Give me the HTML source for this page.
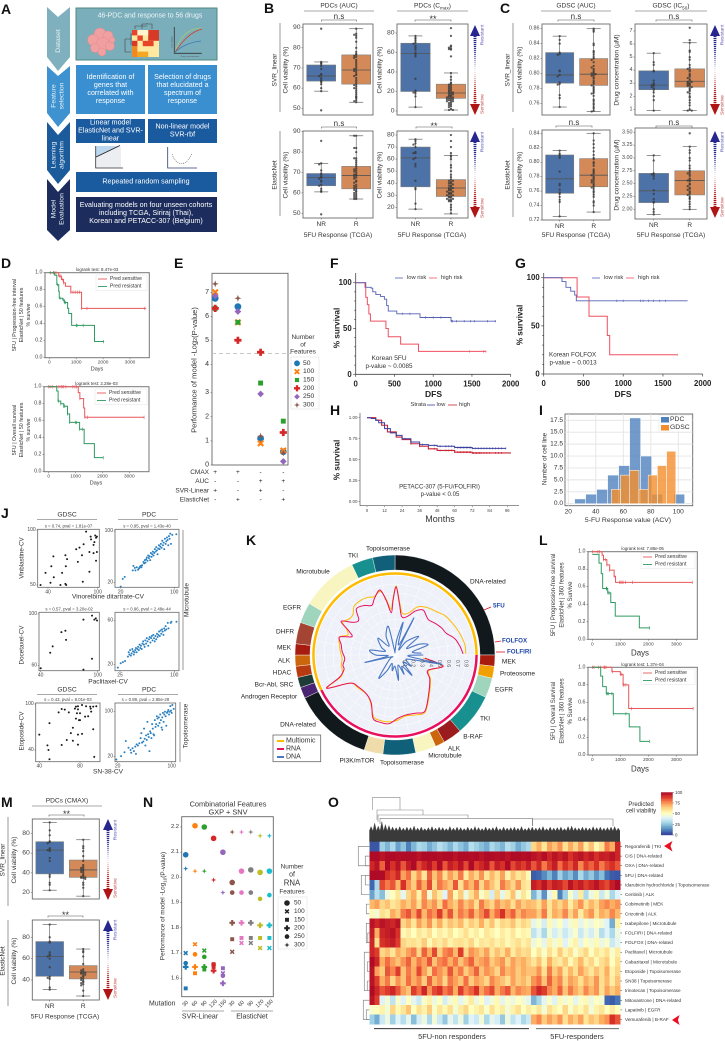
<!DOCTYPE html>
<html lang="en">
<head>
<meta charset="utf-8">
<title>Multi-panel drug response figure</title>
<style>
html,body{margin:0;padding:0;background:#fff;}
svg{display:block;font-family:"Liberation Sans",sans-serif;}
</style>
</head>
<body>
<svg id="figure" xmlns="http://www.w3.org/2000/svg" width="725" height="1041" viewBox="0 0 725 1041">
<g text-anchor="middle" dominant-baseline="central">
  <polygon points="47,7 58,17 70,7 70,57 58,71 47,57" fill="#7fb0bd"/>
  <polygon points="47,66 58,76 70,66 70,113 58,127 47,113" fill="#3e92cf"/>
  <polygon points="47,122 58,135 70,122 70,170 58,184 47,170" fill="#1b5a9b"/>
  <polygon points="47,179 58,192 70,179 70,230 58,241 47,230" fill="#1c2c5c"/>
  <g fill="#e8f2f6" font-size="6.8">
    <text transform="rotate(-90 58.5 41)" x="58.5" y="41" dominant-baseline="central">Dataset</text>
    <text transform="rotate(-90 54 96)" x="54" y="96" dominant-baseline="central">Feature</text>
    <text transform="rotate(-90 62 96)" x="62" y="96" dominant-baseline="central">selection</text>
    <text transform="rotate(-90 54 155)" x="54" y="155" dominant-baseline="central">Learning</text>
    <text transform="rotate(-90 62 155)" x="62" y="155" dominant-baseline="central">algorithm</text>
    <text transform="rotate(-90 54 209)" x="54" y="209" dominant-baseline="central">Model</text>
    <text transform="rotate(-90 62 209)" x="62" y="209" dominant-baseline="central">Evaluation</text>
  </g>
  <rect x="76" y="8" width="141" height="52" fill="#7aaebb" stroke="#4e8a80" stroke-width="1"/>
  <rect x="76" y="65" width="69" height="49" fill="#3a8fd0"/>
  <rect x="148" y="65" width="69" height="49" fill="#3a8fd0"/>
  <rect x="76" y="119" width="69" height="24" fill="#1a5a9e"/>
  <rect x="148" y="119" width="69" height="24" fill="#1a5a9e"/>
  <rect x="76" y="172" width="141" height="20" fill="#1a5a9e"/>
  <rect x="76" y="197" width="141" height="35" fill="#1c2c5c"/>
  <g fill="#fff" font-size="7.1">
    <text x="150" y="16" dominant-baseline="central" fill="#eef5f7" font-size="6.9">46-PDC and response to 56 drugs</text>
    <text x="110.5" y="77" dominant-baseline="central">Identification of</text>
    <text x="110.5" y="85" dominant-baseline="central">genes that</text>
    <text x="110.5" y="93" dominant-baseline="central">correlated with</text>
    <text x="110.5" y="101" dominant-baseline="central">response</text>
    <text x="182.5" y="77" dominant-baseline="central">Selection of drugs</text>
    <text x="182.5" y="85" dominant-baseline="central">that elucidated a</text>
    <text x="182.5" y="93" dominant-baseline="central">spectrum of</text>
    <text x="182.5" y="101" dominant-baseline="central">response</text>
    <text x="110.5" y="122.5" dominant-baseline="central">Linear model</text>
    <text x="110.5" y="130.5" dominant-baseline="central">ElasticNet and SVR-</text>
    <text x="110.5" y="138.5" dominant-baseline="central">linear</text>
    <text x="182.5" y="126.5" dominant-baseline="central">Non-linear model</text>
    <text x="182.5" y="134.5" dominant-baseline="central">SVR-rbf</text>
    <text x="146" y="181.5" dominant-baseline="central">Repeated random sampling</text>
    <text x="146" y="205" dominant-baseline="central">Evaluating models on four unseen cohorts</text>
    <text x="146" y="213" dominant-baseline="central">including TCGA, Siriraj (Thai),</text>
    <text x="146" y="221" dominant-baseline="central">Korean and PETACC-307 (Belgium)</text>
  </g>
  <g fill="#f0a0a0" stroke="#e88a8a" stroke-width=".5">
    <circle cx="100" cy="34" r="6"/><circle cx="108" cy="36" r="5"/><circle cx="93" cy="40" r="5.5"/><circle cx="103" cy="44" r="6.5"/><circle cx="110" cy="46" r="4.5"/><circle cx="95" cy="48" r="4.5"/><circle cx="102" cy="52" r="4"/><circle cx="112" cy="40" r="3"/>
  </g>
  <g>
    <rect x="132" y="30" width="27" height="27" fill="#ffe9a0"/>
    <rect x="132" y="30" width="5.4" height="5.4" fill="#e8442a"/><rect x="137.4" y="35.4" width="5.4" height="5.4" fill="#e8442a"/><rect x="148.2" y="30" width="10.8" height="10.8" fill="#d83a28"/><rect x="142.8" y="40.8" width="10.8" height="5.4" fill="#e8442a"/><rect x="132" y="46.2" width="5.4" height="10.8" fill="#f08a20"/><rect x="137.4" y="51.6" width="10.8" height="5.4" fill="#f5a623"/><rect x="142.8" y="30" width="5.4" height="5.4" fill="#fff6d0"/><rect x="137.4" y="30" width="5.4" height="5.4" fill="#fff6d0"/><rect x="132" y="40.8" width="5.4" height="5.4" fill="#d83a28"/>
    <path d="M131 33V45M125 39H131M125 39V52H131M142 29V24H152V29M147 24V23M135 29V26H147" fill="none" stroke="#444" stroke-width=".6"/>
  </g>
  <g fill="none">
    <path d="M174.3 27V53.3H201.7" stroke="#333" stroke-width=".8"/>
    <path d="M175 52C180 36 188 29 201 28" stroke="#a6cf6a" stroke-width=".8"/>
    <path d="M175 52C182 42 190 32 202 29" stroke="#d8392b" stroke-width=".8"/>
    <path d="M175 52C182 46 190 42 201 41" stroke="#3a78bf" stroke-width=".8"/>
  </g>
  <text transform="rotate(-90 172.5 42)" x="172.5" y="42" font-size="2.2" fill="#555" dominant-baseline="central">Cell viability</text>
  <text x="190" y="57" font-size="2.2" fill="#555" dominant-baseline="central">Drug concentration</text>
  <g fill="none">
    <rect x="96" y="147" width="25" height="21" fill="#eceef2"/>
    <polygon points="96,157 118,146 96,146" fill="#bcd7ee"/>
    <path d="M95.7 146V168H123" stroke="#333" stroke-width=".8"/>
    <path d="M96 157L120 145.5" stroke="#222" stroke-width=".9"/>
  </g>
  <g fill="none">
    <path d="M167.7 147V168H197" stroke="#2d3c70" stroke-width=".8"/>
    <path d="M172 154C176 166 186 168 192 153" stroke="#555" stroke-width=".6" stroke-dasharray="1 1"/>
  </g>
</g>
<g font-size="14" font-weight="bold" fill="#111" dominant-baseline="central">
  <text x="1" y="9" dominant-baseline="central">A</text>
  <text x="264" y="8" dominant-baseline="central">B</text>
  <text x="500" y="8" dominant-baseline="central">C</text>
  <text x="1" y="263" dominant-baseline="central">D</text>
  <text x="174" y="263" dominant-baseline="central">E</text>
  <text x="330" y="263" dominant-baseline="central">F</text>
  <text x="515" y="263" dominant-baseline="central">G</text>
  <text x="330" y="410" dominant-baseline="central">H</text>
  <text x="539" y="410" dominant-baseline="central">I</text>
  <text x="1" y="513" dominant-baseline="central">J</text>
  <text x="246" y="540" dominant-baseline="central">K</text>
  <text x="539" y="540" dominant-baseline="central">L</text>
  <text x="1" y="802" dominant-baseline="central">M</text>
  <text x="143" y="802" dominant-baseline="central">N</text>
  <text x="328" y="802" dominant-baseline="central">O</text>
</g>
</svg>
<script>
/* ===== DATA: box plots (panels B, C, M) ===== */
const boxGroups=['NR','R'];
const b1Stats=[[63.5,66,71.5,58.5,73],[62,69,76.5,53,89.5]];
const b1NR=[89.5,73,72.5,72,71,69.5,67,66.5,66,65,64,63.5,63,62,60,58.5,49];
const b1R=[89.5,87,86.5,86,85,83,80,78,77,76.5,76,75.5,75,74,73,72,71,70,69.5,69,68.5,68,67,66.5,66,65,64,63,62,61.5,61,60,60,59,58,57,56,55.5,55,54,53.5,53];
const b1Ticks=[50,60,70,80,90];
const b2Stats=[[20,59,69.5,4,77],[13,18.5,27.5,1,39]];
const b2NR=[77,75,74,72,70,69,67,65,63,60,58,56,33,21,20,19,18,15,4];
const b2R=[85,77,67,66,65,64,63.5,63,56,39,35,32,29,28,27,26,25,24,23,22,21,20,20,19,18,18,17,16,16,15,15,14,14,13,13,12,12,11,11,10,10,9,8,7,6,5,4,2,1,1];
const b2Ticks=[0,20,40,60,80];
const b3Stats=[[63.5,67.5,69.5,60.5,74.5],[62,68.5,73,57,88]];
const b3NR=[85.5,74.5,74,71,69.5,69,68,67.5,67,66,65.5,64,63.5,62,61,60.5,49.5];
const b3R=[88,88,82,82,80,77,77,76,75,74,73,72,71.5,71,70.5,70,69,69,68.5,68,67.5,67,66,65.5,65,64,63.5,63,62.5,62,61.5,61,60.5,60,59.5,59,58.5,58,57.5,57,57];
const b3Ticks=[50,60,70,80,90];
const b4Stats=[[37,61,70,18.5,76.5],[29,36,43,14.5,63]];
const b4NR=[76.5,75,73,72,70,66,65,65,61,60,56,54,42,36,35,23,18.5];
const b4R=[80,75,70,65,63,62,60,55,53,50,47,45,43,42,42,41,40,40,39,38,38,37,36,36,35,35,34,34,33,33,32,32,31,31,30,30,29,29,28,28,27,27,26,26,25,25,22,20,18,15];
const b4Ticks=[20,30,40,50,60,70,80];
const c1Stats=[[.787,.798,.828,.755,.85],[.784,.799,.82,.749,.86]];
const c1NR=[.85,.845,.84,.828,.826,.825,.804,.803,.798,.796,.788,.786,.785,.771,.767,.755];
const c1R=[.86,.858,.856,.84,.838,.83,.828,.825,.822,.82,.818,.815,.81,.808,.806,.804,.802,.8,.8,.799,.798,.797,.795,.793,.79,.788,.786,.784,.782,.78,.778,.776,.774,.773,.77,.765,.763,.76,.758,.755,.753,.75,.749];
const c1Ticks=['0.76','0.78','0.80','0.82','0.84','0.86'];
const c2Stats=[[2.5,2.85,3.95,.9,5.3],[2.7,3.15,4.1,.9,6.1]];
const c2NR=[5.3,4.6,4.4,3.95,3.9,3.2,3,2.9,2.85,2.8,2.7,2.6,2.5,2.3,2,1.7,.9];
const c2R=[7.25,6.3,6.1,5.5,5.4,5,4.8,4.4,4.2,4.1,4,3.9,3.7,3.6,3.5,3.4,3.3,3.2,3.1,3.1,3,3,2.9,2.9,2.8,2.8,2.7,2.6,2.5,2.4,2.3,2.2,2,1.9,1.7,1.5,1.3,1,.9,.9];
const c2Ticks=['1','2','3','4','5','6','7'];
const c3Stats=[[.757,.777,.81,.725,.816],[.766,.782,.805,.731,.84]];
const c3NR=[.816,.812,.81,.808,.806,.787,.77,.768,.762,.758,.756,.752,.748,.745,.725];
const c3R=[.84,.83,.825,.82,.815,.81,.806,.804,.8,.798,.795,.79,.788,.786,.784,.782,.78,.778,.776,.775,.773,.772,.77,.768,.766,.765,.763,.76,.758,.755,.752,.746,.744,.74,.731];
const c3Ticks=['0.72','0.74','0.76','0.78','0.80','0.82','0.84'];
const c4Stats=[[2.13,2.36,2.7,1.9,3.05],[2.28,2.56,2.75,2,3.22]];
const c4NR=[3.05,2.95,2.7,2.69,2.68,2.65,2.6,2.37,2.3,2.2,2.15,2.13,2,1.95,1.9];
const c4R=[3.48,3.22,3.15,3.1,3,2.95,2.85,2.8,2.75,2.72,2.7,2.68,2.65,2.6,2.58,2.56,2.55,2.5,2.48,2.45,2.42,2.4,2.38,2.35,2.33,2.3,2.28,2.25,2.22,2.2,2.15,2.1,2.05,2];
const c4Ticks=['2.00','2.25','2.50','2.75','3.00','3.25','3.50'];
const m1Stats=[[39,63,71.5,22.5,91],[35.5,43,53,16.5,73.5]];
const m1NR=[91,83,78,72,71,70,65,64,63,62,55,52,38,36,30,28,22.5];
const m1R=[73.5,67,65,62,57,52,48,46,45,44,43,42,41,40,38,37,36,35.5,35,35,34,30,28,25,16.5];
const m1Ticks=[20,40,60,80];
const m2Stats=[[43.5,62,76,31,92],[41,47.5,53.5,25,69]];
const m2NR=[92,80,76,75,66,64,63,62,60,52,43,42,41,33,31];
const m2R=[69,67,66,62,55,50,49,48,47,47,46,46,45,44,43,42,41,40,39,38,37,36,35,30,25];
const m2Ticks=[40,60,80];

/* ===== DATA: survival curves ===== */
const unitTicks=['0.0','0.2','0.4','0.6','0.8','1.0'];
const dayTicks=[0,1000,2000,3000];
const d1RedT=[0,350,450,530,600,800,1200];const d1RedS=[1,.96,.92,.88,.84,.77,.58];const d1RedC=[50,180,250,380,430,500,540,800,880,960,1040,1130,1200,1400,3550];
const d1GrnT=[0,200,280,350,370,500,560,680,720,830,1680];const d1GrnS=[1,.97,.86,.78,.7,.68,.65,.58,.52,.38,.19];const d1GrnC=[150,300,400,520,560,600,1000,1030,1260,2020];
const d2RedT=[0,1100,1160,1300,1340];const d2RedS=[1,.93,.86,.75,.64];const d2RedC=[0,50,130,300,380,460,500,560,640,900,980,1040,1160,1350,1450,3550];
const d2GrnT=[0,300,350,450,560,700,780,1150,1320,1700];const d2GrnS=[1,.95,.83,.8,.77,.68,.58,.5,.33,.165];const d2GrnC=[370,450,560,600,700,780,1000,1040,1150,1250,2030];
const l1RedT=[0,350,400,520,620,780,830];const l1RedS=[1,.96,.91,.85,.79,.72,.65];const l1RedC=[0,200,260,400,470,520,620,780,980,1020,1060,1100,1180,1430,3570];
const l1GrnT=[0,200,240,320,370,550,660,820,1680];const l1GrnS=[.97,.97,.87,.75,.58,.53,.42,.265,.13];const l1GrnC=[500,520,560,600,2050];
const l2RedT=[0,700,1000,1100,1300];const l2RedS=[1,.95,.92,.8,.53];const l2RedC=[0,60,220,300,420,450,490,720,1000,1040,1100,1130,1200,1400,3600];
const l2GrnT=[0,300,370,500,750,1320,1700];const l2GrnS=[1,.9,.78,.7,.47,.32,.155];const l2GrnC=[500,540,570,700,750,1200,2040];
const fLowT=[0,130,200,220,260,320,370,400,420,530,830,1230];const fLowS=[100,95,94,90,87,85,82,75,69,66,62,58];const fLowC=[600,700,900,1000,1100,1240,1250,1300,1400,1480,1530,1700,1800];
const fHighT=[0,120,130,150,170,190,390,420,580,810];const fHighS=[100,95,84,76,66,58,50,41,33,25];const fHighC=[1470,1650,1680];
const gLowT=[0,230,280,340,390,410];const gLowS=[100,96,90,86,82,76];const gLowC=[920,1000,1220,1250,1320,1380,1460,1530];
const gHighT=[0,420,570,800,830];const gHighS=[100,80,60,40,20];const gHighC=[1680];
const dfsTicks=[0,500,1000,1500,2000];
const hLowT=[0,3,6,8,12,16,20,24,30,36,42,48,60,72];const hLowS=[1,.99,.97,.94,.87,.82,.79,.75,.71,.68,.67,.66,.645,.635];
const hLowC=[20,26,30,38,46,50,54,56,58,60,62,63,64,65,66,67,68,69,70,71,72,74,76,78,80,82,84,86,88,90,92,95];
const hHighT=[0,6,10,14,20,24,30,36,42,48,60,72];const hHighS=[1,.97,.91,.83,.77,.74,.69,.66,.63,.61,.59,.58];
const hHighC=[30,36,42,46,50,54,56,58,60,62,63,64,65,66,67,68,69,70,71,72,73,74,75,76,77,78,80,82,84,88,90,92,98];
const hMonths=[0,12,24,36,48,60,72,84,96];
const hSurvTicks=['0.00','0.25','0.50','0.75','1.00'];

/* ===== DATA: panel E ===== */
const eSeries50=[6.75,6.4,1.1,.55];
const eSeries100=[7,5.75,.9,.6];
const eSeries150=[6.33,5.75,3.4,1.82];
const eSeries200=[6.33,5,4.5,1.35];
const eSeries250=[6.85,6.2,2.95,.15];
const eSeries300=[7.35,6.75,1.2,.5];
const eFeatureCounts=[50,100,150,200,250,300];
const eTicks=[0,1,2,3,4,5,6,7];
const eThreshold=4.45;
const eRowNames=['CMAX','AUC','SVR-Linear','ElasticNet'];
const eRowSigns=[['+','+','-','-'],['-','-','+','+'],['+','-','+','-'],['-','+','-','+']];

/* ===== DATA: panel I ===== */
const iPdcEdges=[24.6,32.6,40.6,48.6,56.6,64.6,72.6,80.6,88.6,96.6,104.6];
const iPdcCounts=[1,2,3,6,8,18,10,2,0,2];
const iGdscEdges=[51.3,58,64.7,71.4,78.1,84.8,91.5,98.2];
const iGdscCounts=[3,6,7,3,6,8,11];
const iXTicks=[20,40,60,80,100];
const iYTicks=['0.0','2.5','5.0','7.5','10.0','12.5','15.0','17.5'];

/* ===== DATA: panel J ===== */
const j1X=[31,43,37,47,44,46.5,57,55,61,62,61.5,61,63,76,74,78,82,83,81,86,90,90,91.5,92,95,95,96,97,98,98,99,99];
const j1Y=[50,52,61,57,67,76,61,50,51,50,67,77,73.5,71,82.5,84,53,87,77,98.5,80,62,94,91.5,79,86.5,89,95,93,72,80,94];
const j2X=[20,23,26,38,39,41,42,44,46,47,48,49,50,51,52,54,55,56,57,58,59,60,61,62,63,64,65,66,67,68,69,70,71,72,73,74,75,76,77,78,79,80,81,82,83,84,85,86,87,88,89,90,91,92,93,94,95,97,103];
const j2Y=[14,26,29,39,46,43,39,44,40,42,43,45,46,44,47,52,50,55,51,56,59,54,62,58,61,55,66,60,64,68,62,66,72,68,75,70,64,73,78,72,76,80,74,85,78,82,72,88,80,84,90,86,78,92,88,96,80,94,95];
const j3X=[40,50,52.6,61.8,66,66.7,85,85,94,94,96.5,98,99.3];
const j3Y=[58,70,75,86,87,80,95.6,57,65.4,98.7,95.6,96.6,95];
const j4X=[22,26,29,32,36,37,38,39,40,41,42,43,44,45,46,47,48,49,50,51,52,53,54,55,56,57,58,59,60,61,62,63,64,65,66,67,68,69,70,71,72,73,74,75,76,77,78,79,80,81,82,83,84,85,86,87,88,89,91,92,95,96,103];
const j4Y=[17,21,22,23,27,31,29,33,28,30,34,32,29,31,33,35,31,34,36,33,38,35,37,34,39,41,38,36,42,39,44,41,37,43,45,40,44,46,42,47,44,41,46,43,48,45,47,50,46,51,48,52,50,47,53,51,55,52,58,53,58,59,59];
const j5X=[40,48,49,50,50,59,62,65,62,67,69,71,73,73,75,76,76,77,78,78,78,78,79,80,80,82,82,85,86,88,90,91,93,93,94,96,90.5];
const j5Y=[60,46,40,28,75,89,93.5,92.6,46.5,53,89,62,52,69,94,81,96.5,88,97,47,60,93,79,79,88,61,98.7,83.5,97,84,96.5,90,96.5,67,31,97,94];
const j6X=[18,25,30,32,36,39,40,42,44,47,46,48,50,52,54,55,56,58,59,60,61,62,63,64,65,66,67,68,69,70,71,72,73,74,75,76,77,78,79,80,81,82,83,84,85,86,87,88,89,90,91,92,93,94,95,96,97,98,99,100,101,103,86];
const j6Y=[15,21,28,48,36,32,27,35,30,25,38,42,40,44,53,62,45,47,70,52,40,58,50,82,60,55,30,65,62,53,78,70,60,58,85,73,78,92,88,75,90,80,95,85,72,90,98,82,95,100,92,75,98,100,103,95,100,110,102,98,112,105,68];

/* ===== DATA: panel K (radial) ===== */
const kAngles=[96,103,115,125,140,152,160,170,178,185,192,199,206,215,229,238,244,248,254,259,266,274,281,288,293,298,302,308,314,320,328,335,340,347,351,355,358,361,365,370,378,385,392,398,404,412,420,427,434.5,442,449];
const kRna=[.34,.56,.41,.48,.59,.72,.7,.69,.72,.78,.78,.76,.61,.55,.55,.6,.86,.68,.6,.6,.57,.6,.62,.66,.53,.6,.72,.6,.57,.68,.66,.62,.68,.755,.62,.48,.62,.77,.58,.44,.46,.55,.6,.57,.55,.58,.61,.63,.7,.74,.77];
const kMulti=[.32,.55,.42,.49,.6,.73,.72,.7,.74,.76,.76,.74,.62,.55,.56,.6,.85,.66,.62,.62,.6,.62,.64,.66,.58,.62,.7,.66,.66,.72,.73,.72,.7,.74,.64,.52,.64,.78,.6,.48,.5,.6,.64,.66,.68,.72,.74,.76,.78,.8,.8];
const kDnaAngles=[90,95,101,106,115,125,132,140,148,155,163,172,180,190,200,207,215,225,235,245,256,262,270,281,290,300,315,325,335,347,353,360,367,374,380,387,393,400,412,420,426,433,440,446];
const kDna=[.32,.15,.54,.18,.14,.22,.12,.3,.15,.24,.12,.29,.13,.18,.1,.2,.32,.12,.06,.05,.35,.08,.22,.29,.12,.18,.27,.12,.24,.33,.06,.04,.18,.38,.12,.47,.08,.2,.34,.15,.3,.39,.2,.3];
const kRadialTicks=['0.1','0.2','0.3','0.4','0.5','0.6','0.7','0.8'];
const kSegmentNames=['DNA-related','MEK','Proteosome','EGFR','TKI','B-RAF','ALK','Microtubule','Topoisomerase','PI3K/mTOR','DNA-related','Androgen Receptor','Bcr-Abl, SRC','HDAC','ALK','MEK','DHFR','EGFR','Microtubule','TKI','Topoisomerase'];
const kSegmentEnds=[90,96.5,103.5,115,139.5,150.5,156,168,187,198,244.5,251,257,263.5,270,276.5,289,301,334.5,347,360];
const kSegmentColors=['#12191d','#a81c10','#f0a000','#9fd4bd','#17908f','#9b1c1c','#cc660c','#f8f5c0','#10607a','#efdcaa','#12191d','#4a2472','#1d3c38','#b83a10','#cc660c','#a81c10','#a44433','#9fd4bd','#f8f5c0','#17908f','#10607a'];

/* ===== DATA: panel N ===== */
const nMutations=[30,60,90,120,150,30,60,90,120,150];
const nRna50=[2.09,2.205,2.2,2.155,2.1,1.98,2.025,2.03,2.02,2.025];
const nRna100=[1.7,1.735,1.71,1.655,1.62,1.705,1.74,1.74,1.72,1.72];
const nRna150=[1.56,1.62,1.635,1.645,1.64,1.755,1.76,1.76,1.76,1.76];
const nRna200=[1.645,1.645,1.645,1.63,1.58,1.82,1.82,1.82,1.81,1.81];
const nRna250=[1.66,1.695,1.685,1.655,1.61,1.94,1.94,1.94,1.915,1.93];
const nRna300=[2.035,2.025,2.025,1.99,1.94,2.18,2.18,2.18,2.165,2.165];
const nFeatureCounts=[50,100,150,200,250,300];
const nTicks=['1.6','1.7','1.8','1.9','2.0','2.1','2.2'];

/* ===== DATA: panel O heatmap ===== */
const oLabels=['Regorafenib | TKI','CIS | DNA-related','OXA | DNA-related','5FU | DNA-related','Idarubicin hydrochloride | Topoisomerase','Ceritinib | ALK','Cobimetinib | MEK','Crizotinib | ALK','Ixabepilone | Microtubule','FOLFIRI | DNA-related','FOLFOX | DNA-related','Paclitaxel | Microtubule','Cabazitaxel | Microtubule','Etoposide | Topoisomerase','SN38 | Topoisomerase','Irinotecan | Topoisomerase','Mitoxantrone | DNA-related','Lapatinib | EGFR','Vemurafenib | B-RAF'];
const oReg=[5,5,28,22,30,18,25,12,22,30,28,20,25,32,28,22,30,25,20,32,28,24,20,30,26,22,32,28,20,26,30,62,70,58,72,66,74,60,70,62,72,56,66,52,60,78,70,92];
const oCis=[98,98,96,98,98,97,98,98,98,96,98,98,98,97,98,98,96,98,98,97,98,96,98,98,97,98,96,98,98,97,98,96,94,97,92,96,93,96,90,94,96,92,95,90,94,93,96,92];
const oOxa=[92,96,82,98,90,96,84,94,98,86,92,96,88,98,84,94,90,96,86,98,88,92,96,84,94,90,98,86,92,88,94,84,92,78,88,94,80,90,84,92,76,88,82,90,78,86,90,84];
const o5fu=[98,98,98,90,86,92,72,80,62,74,58,82,66,76,60,72,64,78,56,70,62,74,58,68,60,72,54,66,58,62,52,6,8,14,22,12,28,18,24,14,30,20,26,16,24,10,6,5];
const oIda=[8,30,86,78,84,68,90,74,64,82,70,86,62,78,72,66,84,60,76,68,80,62,74,66,58,78,70,62,74,60,56,94,90,96,88,94,92,86,96,90,94,88,92,96,90,86,94,98];
const oCer=[18,32,24,45,50,58,42,62,70,54,74,46,66,56,40,72,52,64,44,60,70,48,56,38,62,42,54,66,46,58,50,22,35,15,42,52,12,28,48,38,56,30,44,52,36,46,30,40];
const oCob=[68,72,62,66,58,62,70,64,72,60,76,68,74,62,80,70,64,76,66,72,60,78,68,62,74,66,70,60,72,64,68,66,60,72,58,68,62,70,56,66,74,60,68,62,72,76,70,74];
const oCri=[52,46,60,56,70,64,78,84,72,86,68,80,74,88,70,84,66,78,72,82,68,76,86,70,80,90,74,82,68,76,72,72,64,78,58,70,66,76,62,72,56,68,74,60,70,66,76,68];
const oIxa=[96,92,96,94,92,96,62,68,58,72,64,74,60,70,58,66,62,68,56,64,60,70,58,66,54,62,60,66,56,62,58,42,48,38,52,44,50,40,46,52,42,48,44,50,46,40,20,54];
const oFir=[94,70,92,94,96,90,52,56,50,58,54,60,50,56,52,58,50,54,60,52,56,50,58,54,50,56,52,58,50,54,52,34,42,30,46,38,44,36,42,48,36,44,38,46,32,40,30,44];
const oFox=[92,60,90,92,94,88,62,58,60,56,64,52,60,56,62,54,58,60,56,62,52,58,56,60,54,58,52,56,60,54,58,44,50,42,54,46,52,40,48,54,42,50,46,52,44,48,36,42];
const oPac=[92,88,62,66,58,70,64,72,78,62,82,70,86,64,76,80,68,88,62,74,70,64,72,58,66,60,70,56,64,60,62,50,58,48,60,52,64,54,60,48,56,62,50,58,54,60,48,56];
const oCab=[98,92,70,80,72,66,74,82,68,78,72,84,66,76,80,70,78,66,74,82,68,72,76,64,70,74,62,72,66,70,64,58,66,54,70,60,56,64,52,60,68,56,62,52,60,64,50,60];
const oEto=[96,72,64,84,76,88,66,78,70,86,72,62,80,74,68,84,70,78,64,72,82,66,74,70,62,76,68,72,64,70,66,66,74,60,78,64,72,58,68,60,72,64,58,66,60,70,54,62];
const oSn3=[96,88,70,78,62,74,66,80,70,76,64,82,68,74,62,78,72,66,80,64,72,68,62,76,70,66,60,72,64,68,62,74,80,66,82,70,76,62,72,68,60,70,64,74,60,68,56,66];
const oIri=[98,92,84,88,92,84,72,66,88,80,92,74,86,90,78,84,70,88,76,82,90,72,80,86,70,78,84,68,76,72,70,84,92,88,76,70,82,66,78,70,64,76,68,74,60,72,64,70];
const oMit=[96,88,40,46,34,48,40,50,42,36,48,54,44,50,38,46,52,42,48,56,44,50,40,46,52,42,48,44,50,46,42,22,30,42,48,40,52,46,50,42,48,52,44,50,46,8,6,10];
const oLap=[48,50,54,46,62,52,58,66,50,60,54,64,48,58,52,60,46,56,62,50,54,58,48,60,52,56,46,54,60,50,56,52,58,46,60,54,50,62,48,56,52,60,46,54,58,50,56,50];
const oVem=[28,20,36,44,28,40,32,42,24,38,44,30,46,36,26,42,34,44,28,40,36,46,30,42,38,26,44,34,40,30,36,70,76,64,72,66,74,60,70,64,72,58,66,62,70,74,90,84];
const oCbarTicks=[0,25,50,75,100];
const oRowMerges=[[0,2,11],[1,2,4],[3,5,8],[3,4,4],[6,7,3],[8,10,3],[9,10,1.5],[11,15,5],[12,13,2],[14,15,2],[16,18,6],[17,18,3]];
const oColTops=[9,16,10,19,13,11,8,7,9,6,8,7,10,6,8,5,7,9,6,8,7,5,9,6,8,7,5,8,6,9,7,5,8,6,7,9,5,8,6,7,8,6,9,5,7,8,6,7,9,5,8,6,7,8,5,9,10,7,6,8,7,6,9,7,8,6,7,8,9,6];

/* ===== HELPERS ===== */
const NS='http://www.w3.org/2000/svg';
const root=document.getElementById('figure');
function node(tag,name,attrs){
  const el=document.createElementNS(NS,tag);
  for(const k in attrs)el.setAttribute(k,attrs[k]);
  
  
  root.appendChild(el);
  return el;
}
function ln(name,x1,y1,x2,y2,stroke,w,dash){
  const a={x1,y1,x2,y2,stroke,'stroke-width':w};
  if(dash)a['stroke-dasharray']=dash;
  return node('line',name,a);
}
function tx(name,x,y,str,size,o){
  o=o||{};
  const a={x,y,'font-size':size,fill:o.c||'#333','text-anchor':o.a||'middle','dominant-baseline':'central'};
  if(o.b)a['font-weight']='bold';
  if(o.r!==undefined)a.transform='rotate('+o.r+' '+x+' '+y+')';
  const el=node('text',name,a);
  el.textContent=str;
  if(o.sub){
    const s=document.createElementNS(NS,'tspan');
    s.setAttribute('font-size',size*.7);s.setAttribute('dy',size*.25);s.textContent=o.sub;el.appendChild(s);
    const t=document.createElementNS(NS,'tspan');
    t.setAttribute('dy',-size*.25);t.textContent=o.tail||'';el.appendChild(t);
  }
  return el;
}
function rc(name,x,y,w,h,fill,stroke,sw,op){
  const a={x,y,width:w,height:h,fill:fill||'none'};
  if(stroke){a.stroke=stroke;a['stroke-width']=sw||.8;}
  if(op!==undefined)a['fill-opacity']=op;
  return node('rect',name,a);
}
function pth(name,d,stroke,w,fill,op){
  const a={d,fill:fill||'none',stroke:stroke||'none','stroke-width':w||0};
  if(op!==undefined)a.opacity=op;
  return node('path',name,a);
}
function scale(d0,p0,d1,p1){return v=>p0+(v-d0)*(p1-p0)/(d1-d0);}

/* ===== BOX PLOTS ===== */
function boxPanel(name,x0,y0,x1,y1,yS,ticks,stats,ptsNR,ptsR,showX){
  rc(name+'-frame',x0,y0,x1-x0,y1-y0,'#fff','#6a6a6a',.9);
  const cols=['#4c72a8','#d48a58'];
  const w=x1-x0;
  const tickSize=name.charAt(0)==='c'?5.4:6.8;
  [ptsNR,ptsR].forEach((pts,g)=>{
    const cx=x0+w*(g?.76:.26),hw=w*.207,s=stats[g];
    rc(name+'-box-'+boxGroups[g],cx-hw,yS(s[2]),hw*2,yS(s[0])-yS(s[2]),cols[g],'#7f7f7f',.6);
    ln(name+'-whisker-upper',cx,yS(s[2]),cx,yS(s[4]),'#555',.6);
    ln(name+'-whisker-lower',cx,yS(s[0]),cx,yS(s[3]),'#555',.6);
    ln(name+'-cap-upper',cx-7,yS(s[4]),cx+7,yS(s[4]),'#666',.7);
    ln(name+'-cap-lower',cx-7,yS(s[3]),cx+7,yS(s[3]),'#666',.7);
    ln(name+'-median',cx-hw,yS(s[1]),cx+hw,yS(s[1]),'#555',.8);
    const bins={};
    pts.slice().sort((a,b)=>b-a).forEach(v=>{
      const py=yS(v),k=Math.round(py/1.8),n=bins[k]=(bins[k]||0)+1;
      const off=(n%2?1:-1)*Math.floor(n/2)*2;
      const c=node('circle',name+'-point-'+boxGroups[g],{cx:cx+off,cy:py,r:1.15,fill:'#3a3a3a','fill-opacity':.8});
    });
  });
  ticks.forEach(t=>{
    const v=parseFloat(t),py=yS(v);
    ln(name+'-y-tick',x0-1.5,py,x0,py,'#555',.5);
    tx(name+'-y-tick-label',x0-2.5,py,String(t),tickSize,{a:'end',c:'#444'});
  });
  const cxs=[x0+w*.26,x0+w*.76];
  if(showX){
    boxGroups.forEach((g,i)=>{
      ln(name+'-x-tick',cxs[i],y1,cxs[i],y1+1.5,'#555',.5);
      tx(name+'-x-tick-label',cxs[i],y1+6.5,g,6.5,{c:'#333'});
    });
  }
}
function bracket(name,x0,x1,y,label,c){
  pth(name,'M'+x0+' '+(y+1.5)+'V'+y+'H'+x1+'V'+(y+1.5),'#555',.6);
  tx(name+'-label',(x0+x1)/2,y-(label==='**'?1.2:3.6),label,label==='**'?9:8,{c:c||'#333'});
}
function respArrow(name,x,y0,y1){
  node('polygon',name+'-resistant-head',{points:(x-5)+','+(y0+11)+' '+(x+5)+','+(y0+11)+' '+x+','+y0,fill:'#27278f'});
  node('polygon',name+'-sensitive-head',{points:(x-5)+','+(y1-11)+' '+(x+5)+','+(y1-11)+' '+x+','+y1,fill:'#b01515'});
  const top=y0+11,bot=y1-11,mid=(top+bot)/2;
  for(let y=top;y<bot;y+=2){
    const f=Math.abs(y-mid)/((bot-top)/2);
    rc(name+'-stem-dash',x-1.5+(1-f)*1,y,3-(1-f)*2,1.2,y<mid?'#27278f':'#b01515',null,null,Math.min(1,f*1.3+.1));
  }
}
function heading(name,label,x0,x1,y,sub,tail){
  tx(name+'-title',(x0+x1)/2,y,label,6.6,{c:'#333',sub:sub,tail:tail});
  ln(name+'-rule',x0,y+5,x1,y+5,'#555',.6);
}

heading('b-auc','PDCs (AUC)',304,374,6);
heading('b-cmax','PDCs (C',397,468,6,'max',')');
heading('c-auc','GDSC (AUC)',541,611,6);
heading('c-ic50','GDSC (IC',635,707,6,'50',')');
heading('m-cmax','PDCs (CMAX)',32,102,801);
boxPanel('b-svr-auc',303,24,373,115,scale(50,108.3,90,27.7),b1Ticks,b1Stats,b1NR,b1R,false);
boxPanel('b-svr-cmax',397,24,468,115,scale(0,111,80,33),b2Ticks,b2Stats,b2NR,b2R,false);
boxPanel('b-en-auc',303,131,373,218,scale(50,213.3,90,131.7),b3Ticks,b3Stats,b3NR,b3R,true);
boxPanel('b-en-cmax',397,131,468,218,scale(20,207.3,80,135),b4Ticks,b4Stats,b4NR,b4R,true);
boxPanel('c-svr-auc',542,24,610,115,scale(.76,103.3,.86,28.7),c1Ticks,c1Stats,c1NR,c1R,false);
boxPanel('c-svr-ic50',635,24,707,115,scale(1,109.3,7,31),c2Ticks,c2Stats,c2NR,c2R,false);
boxPanel('c-en-auc',542,130,610,220,scale(.72,220,.84,133.3),c3Ticks,c3Stats,c3NR,c3R,true);
boxPanel('c-en-ic50',635,128,707,219,scale(2,209.3,3.5,132.3),c4Ticks,c4Stats,c4NR,c4R,true);
boxPanel('m-svr-cmax',32.3,819,99.3,899,scale(20,892.7,80,833.3),m1Ticks,m1Stats,m1NR,m1R,false);
boxPanel('m-en-cmax',32.3,920,99.3,1000,scale(40,980,80,937.3),m2Ticks,m2Stats,m2NR,m2R,true);

bracket('b-svr-auc-significance',321.5,356.5,20,'n.s');
bracket('b-svr-cmax-significance',415,451,20,'**');
bracket('b-en-auc-significance',321.5,356.5,127,'n.s');
bracket('b-en-cmax-significance',416,452,127,'**');
bracket('c-svr-auc-significance',558,594,20,'n.s');
bracket('c-svr-ic50-significance',656,692,20,'n.s');
bracket('c-en-auc-significance',556,592,126,'n.s');
bracket('c-en-ic50-significance',656,692,126,'n.s');
bracket('m-svr-significance',49,84,815,'**');
bracket('m-en-significance',48,83,916,'**');

['5FU Response (TCGA)'].forEach(s=>{
  tx('b-x-title-auc',338,235.5,s,6.6);
  tx('b-x-title-cmax',432,235.5,s,6.6);
  tx('c-x-title-auc',576,235.5,s,6.6);
  tx('c-x-title-ic50',671,235.5,s,6.6);
  tx('m-x-title',65,1017,s,6.6);
});
[[286,70],[286,175],[380,70],[380,175],[520,70],[520,175],[14.5,860],[14.5,961]].forEach(p=>{
  tx('cell-viability-y-title',p[0],p[1],'Cell viability (%)',6.6,{r:-90});
});
[[617,70],[617,175]].forEach(p=>{
  tx('drug-concentration-y-title',p[0],p[1],'Drug concentration (µM)',6.6,{r:-90});
});
[[275,70,'SVR_linear'],[275,175,'ElasticNet'],[508,70,'SVR_linear'],[508,175,'ElasticNet'],[3,860,'SVR_linear'],[3,961,'ElasticNet']].forEach(p=>{
  tx('model-side-label',p[0],p[1],p[2],6.5,{r:-90});
});
[[280,23,112],[280,131,216],[513,23,112],[513,128,217],[8,817,906],[8,920,1006]].forEach(p=>{
  ln('model-side-rule',p[0],p[1],p[0],p[2],'#555',.6);
});
respArrow('b-svr-arrow',475,25,115);
respArrow('b-en-arrow',475,131,218);
respArrow('c-svr-arrow',715,25,115);
respArrow('c-en-arrow',715,131,218);
respArrow('m-svr-arrow',108,819,900);
respArrow('m-en-arrow',108,920,1000);
[[483,35,104],[483,142,208],[723,35,105],[723,142,207],[116,830,888],[116,930,988]].forEach(p=>{
  tx('resistant-label',p[0],p[1],'Resistant',4.9,{r:-90,c:'#5a55b0'});
  tx('sensitive-label',p[0],p[2],'Sensitive',4.9,{r:-90,c:'#c0403f'});
});

/* ===== SURVIVAL ===== */
function stepAt(T,S,t){let s=S[0];T.forEach((v,i)=>{if(v<=t)s=S[i];});return s;}
function km(name,xS,yS,T,S,end,color,w,C,tickH){
  let d='M'+xS(T[0])+' '+yS(S[0]);
  for(let i=1;i<T.length;i++)d+='H'+xS(T[i])+'V'+yS(S[i]);
  d+='H'+xS(end);
  pth(name+'-curve',d,color,w);
  C.forEach(t=>{
    const py=yS(stepAt(T,S,t)),px=xS(t);
    ln(name+'-censor-mark',px,py-tickH,px,py+tickH,color,.6);
  });
}
function kmPanel(name,x0,y0,x1,y1,xS,yS,title,reds,grns,rEnd,gEnd,legX,legY,legW){
  rc(name+'-frame',x0,y0,x1-x0,y1-y0,'#fff','#777',1);
  unitTicks.forEach(t=>{
    const py=yS(parseFloat(t));
    ln(name+'-y-tick',x0-1.5,py,x0,py,'#555',.5);
    tx(name+'-y-tick-label',x0-2.5,py,t,5.3,{a:'end',c:'#444'});
  });
  dayTicks.forEach(t=>{
    const px=xS(t);
    ln(name+'-x-tick',px,y1,px,y1+1.5,'#555',.5);
    tx(name+'-x-tick-label',px,y1+5.5,String(t),4.8,{c:'#444'});
  });
  tx(name+'-logrank-title',(x0+x1)/2,y0-3,title,4.4,{c:'#333'});
  km(name+'-sensitive',xS,yS,reds[0],reds[1],rEnd,'#e8575a',1,reds[2],1.7);
  km(name+'-resistant',xS,yS,grns[0],grns[1],gEnd,'#2f9a62',1,grns[2],1.7);
  rc(name+'-legend',legX,legY,legW,15.5,'#fff','#ddd',.4);
  ln(name+'-legend-red',legX+2,legY+4,legX+11,legY+4,'#e8575a',.9);
  tx(name+'-legend-sensitive',legX+14,legY+4,'Pred sensitive',5.1,{a:'start'});
  ln(name+'-legend-green',legX+2,legY+11.5,legX+11,legY+11.5,'#2f9a62',.9);
  tx(name+'-legend-resistant',legX+14,legY+11.5,'Pred resistant',5.1,{a:'start'});
}
kmPanel('d-pfi',45,272.7,149.3,357.7,scale(0,49.3,3000,130),scale(0,357.7,1,272.7),'logrank test: 8.47e-03',[d1RedT,d1RedS,d1RedC],[d1GrnT,d1GrnS,d1GrnC],3600,2020,96,275,51);
kmPanel('d-os',44,386.7,149,471.7,scale(0,48.7,3000,129.3),scale(0,471.7,1,386.7),'logrank test: 2.28e-03',[d2RedT,d2RedS,d2RedC],[d2GrnT,d2GrnS,d2GrnC],3550,2030,95,389,52);
kmPanel('l-pfs',588,551.7,697.3,639.3,scale(0,592.3,3000,676.3),scale(0,639.3,1,551.7),'logrank test: 7.88e-05',[l1RedT,l1RedS,l1RedC],[l1GrnT,l1GrnS,l1GrnC],3570,2050,641,553,54);
kmPanel('l-os',588,667.3,697.3,755,scale(0,592.3,3000,676.3),scale(0,755,1,667.3),'logrank test: 1.37e-04',[l2RedT,l2RedS,l2RedC],[l2GrnT,l2GrnS,l2GrnC],3600,2040,641,669,54);
tx('d-pfi-x-title',97,369.5,'Days',5.5);
tx('d-os-x-title',96,483.5,'Days',5.5);
tx('l-pfs-x-title',640,653,'Days',7.9);
tx('l-os-x-title',640,769,'Days',7.9);
[[15,315,'5FU | Progression-free interval'],[22,315,'ElasticNet | 50 features'],[29,315,'% survive'],[15,430,'5FU | Overall survival'],[22,430,'ElasticNet | 50 features'],[29,430,'% survive']].forEach(p=>{
  tx('d-y-title-line',p[0],p[1],p[2],5.3,{r:-90});
});
[[554,595,'5FU | Progression-free survival'],[562.5,595,'ElasticNet | 360 features'],[571,595,'% Survive'],[554,711,'5FU | Overall Survival'],[562.5,711,'ElasticNet | 360 features'],[571,711,'% Survive']].forEach(p=>{
  tx('l-y-title-line',p[0],p[1],p[2],6,{r:-90});
});

function dfsPanel(name,xL,yTop,xS,yS,lowArr,highArr,lowEnd,highEnd){
  dfsTicks.forEach(t=>{
    ln(name+'-x-tick',xS(t),yS(0),xS(t),yS(0)+2.5,'#444',.7);
    tx(name+'-x-tick-label',xS(t),yS(0)+9.7,String(t),7.8,{b:true,c:'#222'});
  });
  for(let v=0;v<=100;v+=10){
    const big=v%50===0;
    ln(name+'-y-tick',xL-(big?2.5:1.5),yS(v),xL,yS(v),'#444',.7);
    if(big)tx(name+'-y-tick-label',xL-4,yS(v),String(v),7.8,{a:'end',b:true,c:'#222'});
  }
  ln(name+'-y-axis',xL,yTop,xL,yS(0),'#444',.8);
  ln(name+'-x-axis',xL,yS(0),xS(2000),yS(0),'#444',.8);
  km(name+'-high-risk',xS,yS,highArr[0],highArr[1],highEnd,'#f05060',1,highArr[2],1.2);
  km(name+'-low-risk',xS,yS,lowArr[0],lowArr[1],lowEnd,'#5560b5',.9,lowArr[2],1.2);
}
const fX=scale(0,355.7,2000,510.7),fY=scale(0,374.3,100,282.7);
const gX=scale(0,543.7,2000,702.7),gY=scale(0,374,100,277.7);
dfsPanel('f',355.7,273,fX,fY,[fLowT,fLowS,fLowC],[fHighT,fHighS,fHighC],1810,1680);
dfsPanel('g',543.7,273,gX,gY,[gLowT,gLowS,gLowC],[gHighT,gHighS,gHighC],1810,1680);
function riskLegend(name,x,y,gap){
  ln(name+'-low-swatch',x,y,x+8,y,'#5560b5',.8);
  tx(name+'-low-label',x+12,y,'low risk',5.8,{a:'start'});
  ln(name+'-high-swatch',x+gap,y,x+gap+8,y,'#f05060',.8);
  tx(name+'-high-label',x+gap+12,y,'high risk',5.8,{a:'start'});
}
riskLegend('f-legend',395,278,34);
riskLegend('g-legend',592,278,34);
tx('f-cohort-label',389,358.5,'Korean 5FU',6.5);
tx('f-p-value',389,366.5,'p-value ~ 0.0085',6.3);
tx('g-cohort-label',549,355,'Korean FOLFOX',6.3,{a:'start'});
tx('g-p-value',549.5,363,'p-value ~ 0.0013',6.3,{a:'start'});
tx('f-x-title',433.5,394,'DFS',8.5,{b:true,c:'#222'});
tx('g-x-title',623,394,'DFS',8.5,{b:true,c:'#222'});
tx('f-y-title',337,328,'% survival',8.2,{b:true,r:-90,c:'#222'});
tx('g-y-title',520,325,'% survival',8.2,{b:true,r:-90,c:'#222'});

const hX=scale(0,367,96,507.3),hY=scale(0,501.7,1,417.7);
ln('h-y-axis',360,413,360,505.7,'#555',.7);
ln('h-x-axis',360,505.7,519,505.7,'#555',.7);
hMonths.forEach(m=>{
  ln('h-x-tick',hX(m),505.7,hX(m),507.2,'#555',.5);
  tx('h-x-tick-label',hX(m),510.5,String(m),4.2,{c:'#444'});
});
hSurvTicks.forEach(t=>{
  const py=hY(parseFloat(t));
  ln('h-y-tick',358.5,py,360,py,'#555',.5);
  tx('h-y-tick-label',357.5,py,t,4.5,{a:'end',c:'#444'});
});
km('h-high-risk',hX,hY,hHighT,hHighS,98,'#cc2233',1.1,hHighC,1);
km('h-low-risk',hX,hY,hLowT,hLowS,95,'#3a3f9f',1,hLowC,1);
tx('h-y-title',337,460,'% survival',8.2,{b:true,r:-90,c:'#222'});
tx('h-x-title',440,519,'Months',9,{c:'#333'});
tx('h-legend-title',426,405,'Strata',5.8,{a:'end'});
ln('h-legend-low-swatch',427,405,435,405,'#3a3f9f',.8);
tx('h-legend-low',436.5,405,'low',5.9,{a:'start'});
ln('h-legend-high-swatch',448,405,457,405,'#cc2233',.8);
tx('h-legend-high',459,405,'high',5.9,{a:'start'});
tx('h-cohort-label',439.5,487,'PETACC-307 (5-FU/FOLFIRI)',6.1);
tx('h-p-value',440,494.5,'p-value < 0.05',6.1);

/* ===== PANEL E ===== */
function marker(name,shape,x,y,s,fill){
  const u=s,t=s*.38;
  let d='';
  if(shape==='circle')return node('circle',name,{cx:x,cy:y,r:s,fill});
  if(shape==='square')return rc(name,x-s*.82,y-s*.82,s*1.64,s*1.64,fill);
  if(shape==='plus')d=`M${x-t} ${y-u}H${x+t}V${y-t}H${x+u}V${y+t}H${x+t}V${y+u}H${x-t}V${y+t}H${x-u}V${y-t}H${x-t}Z`;
  if(shape==='diamond')d=`M${x} ${y-u*1.15}L${x+u*1.15} ${y}L${x} ${y+u*1.15}L${x-u*1.15} ${y}Z`;
  if(shape==='x')d=`M${x-u} ${y-u*.55}L${x-u*.55} ${y-u}L${x} ${y-u*.45}L${x+u*.55} ${y-u}L${x+u} ${y-u*.55}L${x+u*.45} ${y}L${x+u} ${y+u*.55}L${x+u*.55} ${y+u}L${x} ${y+u*.45}L${x-u*.55} ${y+u}L${x-u} ${y+u*.55}L${x-u*.45} ${y}Z`;
  if(shape==='star')d=`M${x} ${y-u*1.2}L${x+u*.3} ${y-u*.3}L${x+u*1.2} ${y}L${x+u*.3} ${y+u*.3}L${x} ${y+u*1.2}L${x-u*.3} ${y+u*.3}L${x-u*1.2} ${y}L${x-u*.3} ${y-u*.3}Z`;
  return pth(name,d,null,0,fill);
}
const eY=v=>v>=4?364.3-(v-4)*24:465-v*24.1;
const eX=i=>215.2+i*22.7;
const eColors=['#1f77b4','#ff7f0e','#2ca02c','#d62728','#9467bd','#8c564b'];
const eShapes=['circle','x','square','plus','diamond','star'];
const eAllSeries=[eSeries50,eSeries100,eSeries150,eSeries200,eSeries250,eSeries300];
const eMarkSizes=[3.4,3.4,3,3.6,2.9,2.9];
rc('e-plot-frame',212,273.3,76,191.7,'#fff','#666',.9);
ln('e-significance-threshold',212,eY(eThreshold),288,eY(eThreshold),'#c8c8c8',.9,'4 3');
ln('e-threshold-extension',288,eY(eThreshold),291,eY(eThreshold),'#c8c8c8',.9);
eTicks.forEach(t=>{
  ln('e-y-tick',210.5,eY(t),212,eY(t),'#555',.5);
  tx('e-y-tick-label',209,eY(t),String(t),7,{a:'end',c:'#333'});
});
eAllSeries.forEach((ser,k)=>{
  ser.forEach((v,i)=>{
    marker('e-marker-'+eFeatureCounts[k],eShapes[k],eX(i),eY(v),eMarkSizes[k],eColors[k]);
  });
});
tx('e-y-title',194,370,'Performance of model -Log',7.6,{r:-90,sub:'2',tail:'(P-value)'});
eRowNames.forEach((n,r)=>{
  const y=[472.7,481.5,491,500][r];
  tx('e-row-label',209,y,n,6.5,{a:'end'});
  eRowSigns[r].forEach((s,i)=>{
    tx('e-row-sign',eX(i),y,s,6.5,{c:'#222'});
  });
});
tx('e-legend-title-number',303,337.5,'Number',6.5);
tx('e-legend-title-of',303,345,'of',6.5);
tx('e-legend-title-features',303,352,'Features',6.5);
rc('e-legend-box',291,357,28,52,'#fff','#ddd',.5);
eFeatureCounts.forEach((c,k)=>{
  const y=363.3+k*8.35;
  marker('e-legend-marker-'+c,eShapes[k],297,y,eMarkSizes[k]*.85,eColors[k]);
  tx('e-legend-label-'+c,303,y,String(c),6.8,{a:'start'});
});

/* ===== PANEL I ===== */
const iX=scale(20,568.3,100,678.3),iY=scale(0,503.7,17.5,420.3);
rc('i-plot-frame',565,414,127.7,91.7,'#fff','#666',.9);
iXTicks.forEach(t=>{
  ln('i-x-grid',iX(t),414,iX(t),505.7,'#e4e4e4',.9);
  tx('i-x-tick-label',iX(t),512,String(t),6.6);
});
iYTicks.forEach(t=>{
  const py=iY(parseFloat(t));
  ln('i-y-grid',565,py,692.7,py,'#e4e4e4',.9);
  tx('i-y-tick-label',563,py,t,6.6,{a:'end'});
});
iPdcCounts.forEach((c,i)=>{
  if(c)rc('i-bar-pdc',iX(iPdcEdges[i]),iY(c),iX(iPdcEdges[i+1])-iX(iPdcEdges[i]),iY(0)-iY(c),'#4f81bd','#fff',.5,.8);
});
iGdscCounts.forEach((c,i)=>{
  rc('i-bar-gdsc',iX(iGdscEdges[i]),iY(c),iX(iGdscEdges[i+1])-iX(iGdscEdges[i]),iY(0)-iY(c),'#f28e2b','#fff',.5,.8);
});
rc('i-legend-box',659,415,33,17,'#fff','#ddd',.4,.8);
rc('i-legend-pdc-swatch',661,417,8,5.5,'#4f81bd');
tx('i-legend-pdc',670,419.5,'PDC',6.8,{a:'start'});
rc('i-legend-gdsc-swatch',661,425,8,5.5,'#f28e2b');
tx('i-legend-gdsc',670,427.5,'GDSC',6.8,{a:'start'});
tx('i-y-title',545,459,'Number of cell line',6.3,{r:-90});
tx('i-x-title',628,520.5,'5-FU Response value (ACV)',6.8);

/* ===== PANEL J ===== */
function scatter(name,x0,y0,x1,y1,xA,yA,X,Y,color,r,xt,yt,stat){
  rc(name+'-frame',x0,y0,x1-x0,y1-y0,'#fff','#666',.8);
  const xS=scale(xA[0],xA[1],xA[2],xA[3]),yS=scale(yA[0],yA[1],yA[2],yA[3]);
  X.forEach((v,i)=>{
    node('circle',name+'-point',{cx:xS(v),cy:yS(Y[i]),r:r,fill:color});
  });
  xt.forEach(t=>{
    ln(name+'-x-tick',xS(t),y1,xS(t),y1+1.3,'#555',.5);
    tx(name+'-x-tick-label',xS(t),y1+5,String(t),5,{c:'#444'});
  });
  yt.forEach(t=>{
    ln(name+'-y-tick',x0-1.3,yS(t),x0,yS(t),'#555',.5);
    tx(name+'-y-tick-label',x0-2,yS(t),String(t),5,{a:'end',c:'#444'});
  });
  tx(name+'-statistics',(x0+x1)/2,y0-3.5,stat,4.3,{c:'#444'});
}
const jBlack='#1a1a1a',jBlue='#2a80c0';
scatter('j-vinblastine-gdsc',37.7,529.3,99.3,587.3,[40,48,100,97.7],[50,585,100,530],j1X,j1Y,jBlack,1,[40,100],[50,100],'s = 0.74, pval = 1.81e-07');
scatter('j-vinblastine-pdc',115,529.3,179,587.3,[20,120.7,100,174.3],[20,582.7,100,531],j2X,j2Y,jBlue,1,[20,100],[20,100],'s = 0.95, pval = 1.43e-40');
scatter('j-docetaxel-gdsc',39,612.3,99.3,670.7,[40,40.7,100,97.7],[60,665.7,100,614],j3X,j3Y,jBlack,1,[40,100],[60,100],'s = 0.57, pval = 3.20e-02');
scatter('j-docetaxel-pdc',115,612.3,179,670.7,[25,120,100,174.3],[20,664.3,60,620.7],j4X,j4Y,jBlue,1,[25,100],[20,60],'s = 0.96, pval = 2.48e-44');
scatter('j-etoposide-gdsc',35.7,703,100,761.7,[40,39.3,80,80],[40,750,100,704],j5X,j5Y,jBlack,1,[40,80],[40,100],'s = 0.43, pval = 8.01e-03');
scatter('j-etoposide-pdc',115,703,175.7,761.7,[20,117.7,100,171.7],[20,756.7,100,711.7],j6X,j6Y,jBlue,1,[20,100],[20,100],'s = 0.89, pval = 2.85e-28');
[['gdsc-top',67,515,37,97,'GDSC'],['pdc-top',149,515,118,178,'PDC'],['gdsc-bottom',67,690,37,97,'GDSC'],['pdc-bottom',149,690,118,178,'PDC']].forEach(h=>{
  tx('j-header-'+h[0],h[1],h[2],h[5],6.7);
  ln('j-rule-'+h[0],h[3],h[2]+4.5,h[4],h[2]+4.5,'#555',.6);
});
tx('j-x-title-vinorelbine',108,597,'Vinorelbine ditartrate-CV',6.6);
tx('j-x-title-paclitaxel',108,682,'Paclitaxel-CV',6.6);
tx('j-x-title-sn38',108,772,'SN-38-CV',6.6);
tx('j-y-title-vinblastine',22,558,'Vinblastine-CV',6.3,{r:-90});
tx('j-y-title-docetaxel',22,645,'Docetaxel-CV',6.3,{r:-90});
tx('j-y-title-etoposide',22,731,'Etoposide-CV',6.3,{r:-90});
tx('j-class-microtubule',187,600,'Microtubule',6.6,{r:-90});
ln('j-class-rule-microtubule',183,530,183,670,'#555',.6);
tx('j-class-topoisomerase',186,726,'Topoisomerase',6.6,{r:-90});
ln('j-class-rule-topoisomerase',180,702,180,762,'#555',.6);

/* ===== PANEL K ===== */
const kCx=395,kCy=655;
const kR=v=>v*88.4;
function pol(angle,r){const a=(angle-90)*Math.PI/180;return [kCx+r*Math.cos(a),kCy+r*Math.sin(a)];}
function arc(a0,a1,r0,r1){
  const p=pol(a0,r1),q=pol(a1,r1),s=pol(a1,r0),t=pol(a0,r0),l=(a1-a0)>180?1:0;
  return `M${p[0]} ${p[1]}A${r1} ${r1} 0 ${l} 1 ${q[0]} ${q[1]}L${s[0]} ${s[1]}A${r0} ${r0} 0 ${l} 0 ${t[0]} ${t[1]}Z`;
}
kSegmentEnds.forEach((end,i)=>{
  const start=i?kSegmentEnds[i-1]:0;
  pth('k-segment-'+kSegmentNames[i].toLowerCase().replace(/[^a-z0-9]+/g,'-'),arc(start,end,85,100),'#fff',.4,kSegmentColors[i]);
});
node('circle','k-radar-background',{cx:kCx,cy:kCy,r:79.5,fill:'#eef1f9'});
pth('k-multiomic-ring',arc(-115.5,90,80.3,82.8),null,0,'#ffbb00');
pth('k-rna-ring',arc(90,244.5,80.3,82.8),null,0,'#e8115f');
kRadialTicks.forEach(t=>{
  node('circle','k-radial-grid-circle',{cx:kCx,cy:kCy,r:kR(parseFloat(t)),fill:'none',stroke:'#fff','stroke-width':.5});
});
for(let a=0;a<360;a+=10){
  const p=pol(a,79.5);
  ln('k-spoke',kCx,kCy,p[0],p[1],'#fff',.4);
}
function smooth(angles,vals){
  const P=angles.map((a,i)=>pol(a,kR(vals[i])));
  let d='M'+P[0][0]+' '+P[0][1];
  for(let i=0;i<P.length-1;i++){
    const a=P[Math.max(0,i-1)],b=P[i],c=P[i+1],e=P[Math.min(P.length-1,i+2)];
    d+=`C${b[0]+(c[0]-a[0])/6} ${b[1]+(c[1]-a[1])/6} ${c[0]-(e[0]-b[0])/6} ${c[1]-(e[1]-b[1])/6} ${c[0]} ${c[1]}`;
  }
  return d;
}
pth('k-multiomic-curve',smooth(kAngles,kMulti),'#ffbb00',1);
pth('k-rna-curve',smooth(kAngles,kRna),'#e8115f',1);
pth('k-dna-curve',smooth(kDnaAngles,kDna),'#4a78c4',1.1);
kRadialTicks.forEach(t=>{
  const r=kR(parseFloat(t));
  tx('k-radial-tick-label',kCx+r,kCy+8.5,t,5,{r:90,c:'#555'});
});
[['DNA-related',470,582,'start'],['Topoisomerase',388,549,'middle'],['TKI',353,556,'middle'],['Microtubule',313,572,'middle'],['EGFR',292,608,'middle'],['DHFR',285,632,'middle'],['MEK',284,648,'middle'],['ALK',284,661,'middle'],['HDAC',282,673,'middle'],['Bcr-Abl, SRC',274,685,'middle'],['Androgen Receptor',269,697,'middle'],['DNA-related',298,725,'middle'],['PI3K/mTOR',357,761,'middle'],['Topoisomerase',402,763,'middle'],['Microtubule',445,756,'middle'],['ALK',454,749,'middle'],['B-RAF',473,737,'middle'],['TKI',485,719,'middle'],['EGFR',513,690,'end'],['Proteosome',535,674,'end'],['MEK',516,662,'end']].forEach(l=>{
  tx('k-class-label',l[1],l[2],l[0],6.5,{a:l[3],c:'#222'});
});
[['5FU',493,606,484,610,491,607],['FOLFOX',502,641,495,642,501,641],['FOLFIRI',507,652,496,652,505,652]].forEach(l=>{
  ln('k-drug-pointer',l[3],l[4],l[5],l[6],'#e01020',.8);
  tx('k-drug-label',l[1],l[2],l[0],6.2,{a:'start',b:true,c:'#1d46a8'});
});
rc('k-legend-box',273,735,47.7,26.7,'#fff','#666',.8);
[['Multiomic','#ffbb00',741],['RNA','#e8115f',749],['DNA','#4a78c4',757]].forEach(l=>{
  rc('k-legend-swatch',277,l[2]-1,7,2,l[1]);
  tx('k-legend-label',286,l[2],l[0],7,{a:'start'});
});

/* ===== PANEL N ===== */
const nY=scale(1.6,978.3,2.2,827);
const nX=i=>185.7+i*9.3;
const nColors=['#1f77b4','#ff7f0e','#2ca02c','#d62728','#9467bd','#8c564b','#e377c2','#7f7f7f','#bcbd22','#17becf'];
const nShapes=['circle','x','square','plus','circle','star'];
const nAllSeries=[nRna50,nRna100,nRna150,nRna200,nRna250,nRna300];
const nSizes=[2.8,2.4,2.4,2.8,2.3,2.2];
rc('n-plot-frame',181.7,816.7,91.6,180,'#fff','#666',.9);
nTicks.forEach(t=>{
  const py=nY(parseFloat(t));
  ln('n-y-tick',180.2,py,181.7,py,'#555',.5);
  tx('n-y-tick-label',179,py,t,5.8,{a:'end',c:'#333'});
});
nAllSeries.forEach((ser,k)=>{
  ser.forEach((v,i)=>{
    marker('n-marker-'+nFeatureCounts[k],nShapes[k],nX(i),nY(v),nSizes[k],nColors[i]);
  });
});
nMutations.forEach((m,i)=>{
  tx('n-mutation-tick-label',nX(i),1004,String(m),5.3,{r:-45,c:'#333'});
});
tx('n-mutation-label',149,1004,'Mutation',6.9,{a:'start'});
ln('n-svr-rule',182,1011,224,1011,'#555',.6);
ln('n-elastic-rule',231,1011,273,1011,'#555',.6);
tx('n-svr-label',200,1017,'SVR-Linear',7);
tx('n-elastic-label',252,1017,'ElasticNet',7);
tx('n-title-line-1',228,804,'Combinatorial Features',7.4);
tx('n-title-line-2',228,812,'GXP + SNV',7.4);
tx('n-y-title',163,906,'Performance of model -Log',6.4,{r:-90,sub:'10',tail:'(P-value)'});
tx('n-legend-number',292,867,'Number',6.4);
tx('n-legend-of',292,875,'of',7);
tx('n-legend-rna',292,883,'RNA',7.8);
tx('n-legend-features',292,892,'Features',6.4);
rc('n-legend-box',278,897,29,52,'#fff','#ddd',.5);
nFeatureCounts.forEach((c,k)=>{
  const y=903+k*8.4;
  marker('n-legend-marker-'+c,nShapes[k],287,y,nSizes[k],'#222');
  tx('n-legend-label-'+c,294,y,String(c),6.4,{a:'start'});
});

/* ===== PANEL O ===== */
const heatStops=['#313695','#4575b4','#74add1','#abd9e9','#e0f3f8','#ffffbf','#fee090','#fdae61','#f46d43','#d73027','#a50026'];
function hex2(c){return [1,3,5].map(i=>parseInt(c.substr(i,2),16));}
function heatColor(v){
  const f=Math.max(0,Math.min(99.999,v))/10,i=Math.floor(f),t=f-i;
  const a=hex2(heatStops[i]),b=hex2(heatStops[i+1]);
  return 'rgb('+a.map((x,k)=>Math.round(x+(b[k]-x)*t)).join(',')+')';
}
const oMatrix=[oReg,oCis,oOxa,o5fu,oIda,oCer,oCob,oCri,oIxa,oFir,oFox,oPac,oCab,oEto,oSn3,oIri,oMit,oLap,oVem];
const oX0=369.3,oX1=620,oY0=841.7,oRowH=(1024.3-841.7)/19;
oMatrix.forEach((row,r)=>{
  const w=(oX1-oX0)/row.length;
  row.forEach((v,c)=>{
    const cell=rc('o-heatmap-cell',oX0+c*w,oY0+r*oRowH,w+.3,oRowH+.2,heatColor(v));
    cell.setAttribute('shape-rendering','crispEdges');
  });
  const cy=oY0+(r+.5)*oRowH;
  ln('o-row-tick',620.5,cy,622,cy,'#333',.5);
  tx('o-row-label',625,cy,oLabels[r],4.65,{a:'start',c:'#333'});
});
oRowMerges.forEach(m=>{
  const ya=oY0+(m[0]+.5)*oRowH,yb=oY0+(m[1]+.5)*oRowH,x=oX0-m[2];
  pth('o-row-dendrogram-branch',`M${oX0} ${ya}H${x}V${yb}H${oX0}`,'#888',.7);
});
rc('o-column-dendrogram-base',oX0,831,oX1-oX0,10.7,'#3a3a3a');
oColTops.forEach((h,i)=>{
  const w=(oX1-oX0)/oColTops.length,x=oX0+i*w;
  pth('o-column-dendrogram-leaf',`M${x} 831L${x+w/2} ${831-h*.5}L${x+w} 831Z`,'#3a3a3a',.3,'#3a3a3a');
});
pth('o-dendrogram-top-branch','M372.7 810V797.3H400V810','#888',.6);
pth('o-dendrogram-branch-2','M377 820V810H423V815','#888',.6);
pth('o-dendrogram-branch-3','M378 822V815H468V818.3','#888',.6);
pth('o-dendrogram-branch-4','M380 824V818.3H532.5V826','#777',.6);
pth('o-dendrogram-branch-5','M532.5 826V819H613V826','#777',.6);
rc('o-colorbar-frame',661,792.3,11.7,42.7,'#fff');
for(let i=0;i<50;i++){
  rc('o-colorbar-step',661,792.3+i*42.7/50,11.7,42.7/50+.2,heatColor(100-i*2-1));
}
const oBarY=scale(0,835,100,792.3);
oCbarTicks.forEach(t=>{
  ln('o-colorbar-tick',672.7,oBarY(t),674,oBarY(t),'#333',.4);
  tx('o-colorbar-label',675,oBarY(t),String(t),4.4,{a:'start',c:'#333'});
});
tx('o-colorbar-title-line-1',641,805,'Predicted',6);
tx('o-colorbar-title-line-2',641,811.5,'cell viability',6);
node('polygon','o-regorafenib-pointer',{points:'664,846 672.5,841 670.5,846 672.5,851.5',fill:'#e81020'});
node('polygon','o-vemurafenib-pointer',{points:'672,1020 679.5,1015 678,1020 679.5,1025',fill:'#e81020'});
ln('o-non-responder-rule',374,1028.7,529,1028.7,'#111',.9);
ln('o-responder-rule',536,1028.7,619,1028.7,'#555',.9);
tx('o-non-responder-label',452,1036.7,'5FU-non responders',7.4);
tx('o-responder-label',577,1036.7,'5FU-responders',7.4);
</script>
</body>
</html>
